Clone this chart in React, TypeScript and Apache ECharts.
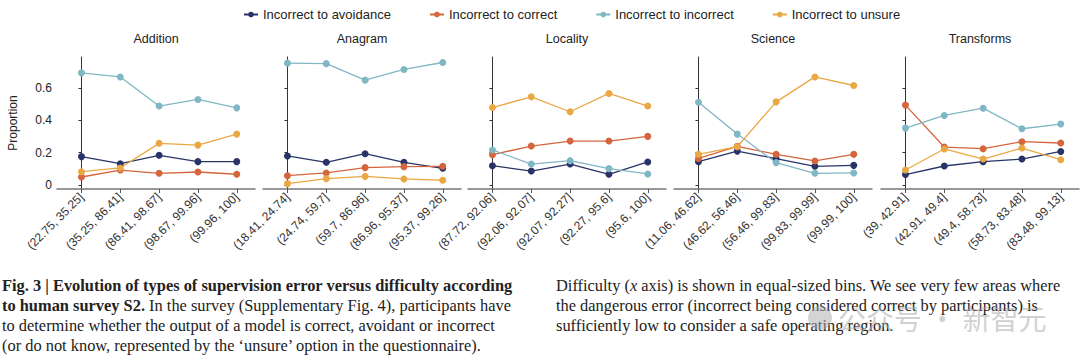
import React, { useEffect, useRef } from "react";
import * as echarts from "echarts";

const panelNames = ["Addition", "Anagram", "Locality", "Science", "Transforms"];
const seriesNames = [
  "Incorrect to avoidance",
  "Incorrect to correct",
  "Incorrect to incorrect",
  "Incorrect to unsure",
];
const seriesColors = ["#283467", "#d5653c", "#80b7c4", "#eaa844"];

const binsAddition = ["(22.75, 35.25]", "(35.25, 86.41]", "(86.41, 98.67]", "(98.67, 99.96]", "(99.96, 100]"];
const binsAnagram = ["(18.41, 24.74]", "(24.74, 59.7]", "(59.7, 86.96]", "(86.96, 95.37]", "(95.37, 99.26]"];
const binsLocality = ["(87.72, 92.06]", "(92.06, 92.07]", "(92.07, 92.27]", "(92.27, 95.6]", "(95.6, 100]"];
const binsScience = ["(11.06, 46.62]", "(46.62, 56.46]", "(56.46, 99.83]", "(99.83, 99.99]", "(99.99, 100]"];
const binsTransforms = ["(39, 42.91]", "(42.91, 49.4]", "(49.4, 58.73]", "(58.73, 83.48]", "(83.48, 99.13]"];
const panelBins = [binsAddition, binsAnagram, binsLocality, binsScience, binsTransforms];

// rows: Addition, Anagram, Locality, Science, Transforms
const toAvoidance = [
  [0.175, 0.131, 0.183, 0.144, 0.144],
  [0.179, 0.14, 0.193, 0.14, 0.103],
  [0.119, 0.086, 0.129, 0.066, 0.142],
  [0.144, 0.209, 0.162, 0.115, 0.121],
  [0.064, 0.117, 0.144, 0.16, 0.207],
];
const toCorrect = [
  [0.049, 0.092, 0.072, 0.08, 0.066],
  [0.057, 0.074, 0.107, 0.113, 0.115],
  [0.187, 0.24, 0.271, 0.271, 0.3],
  [0.164, 0.238, 0.189, 0.148, 0.189],
  [0.493, 0.234, 0.224, 0.267, 0.259],
];
const toIncorrect = [
  [0.692, 0.667, 0.487, 0.528, 0.476],
  [0.752, 0.749, 0.647, 0.713, 0.756],
  [0.216, 0.129, 0.15, 0.101, 0.068],
  [0.511, 0.314, 0.138, 0.072, 0.074],
  [0.351, 0.429, 0.474, 0.347, 0.376],
];
const toUnsure = [
  [0.082, 0.105, 0.257, 0.246, 0.314],
  [0.008, 0.039, 0.053, 0.037, 0.029],
  [0.478, 0.544, 0.452, 0.565, 0.487],
  [0.189, 0.236, 0.513, 0.667, 0.614],
  [0.092, 0.222, 0.16, 0.228, 0.156],
];
const seriesData = [toAvoidance, toCorrect, toIncorrect, toUnsure];

const yTicks = [0, 0.2, 0.4, 0.6];
const yTickLabels = ["0", "0.2", "0.4", "0.6"];
const xPositions = [0, 1, 2, 3, 4];

const captionLeft = [
  "{b|Fig. 3 | Evolution of types of supervision error versus difficulty according}",
  "{b|to human survey S2.} In the survey (Supplementary Fig. 4), participants have",
  "to determine whether the output of a model is correct, avoidant or incorrect",
  "(or do not know, represented by the \u2018unsure\u2019 option in the questionnaire).",
];
const captionRight = [
  "Difficulty ({i|x} axis) is shown in equal-sized bins. We see very few areas where",
  "the dangerous error (incorrect being considered correct by participants) is",
  "sufficiently low to consider a safe operating region.",
];
const watermark = "公众号 · 新智元";

const gridLefts = [57, 263, 468, 674, 881];
const gridWidth = 198;
const gridTop = 57;
const gridHeight = 132;

export default function App() {
  const ref = useRef<HTMLDivElement>(null);
  useEffect(() => {
    if (!ref.current) return;
    const chart = echarts.init(ref.current, null, { renderer: "svg" });
    const sans = "Liberation Sans, Arial, sans-serif";
    const grids = gridLefts.map((l) => ({ left: l, top: gridTop, width: gridWidth, height: gridHeight }));
    const xAxes = panelBins.map((bins, i) => ({
      type: "value",
      gridIndex: i,
      min: -0.63,
      max: 4.47,
      splitLine: { show: false },
      axisLine: { show: true, onZero: false, lineStyle: { color: "#777", width: 1.5 } },
      axisTick: { show: true, customValues: xPositions, length: 4, lineStyle: { color: "#555" } },
      axisLabel: {
        customValues: xPositions,
        rotate: 45,
        fontSize: 12,
        fontFamily: sans,
        color: "#333",
        margin: 6,
        formatter: (v: number) => bins[Math.round(v)],
      },
    }));
    const yAxes = panelNames.map((_, i) => ({
      type: "value",
      gridIndex: i,
      min: -0.025,
      max: 0.79,
      splitLine: { show: false },
      name: i === 0 ? "Proportion" : "",
      nameLocation: "middle",
      nameGap: 38,
      nameTextStyle: { fontSize: 12, fontFamily: sans, color: "#222" },
      axisLine: { show: true, lineStyle: { color: "#333", width: 1 } },
      axisTick: { show: true, customValues: yTicks, length: 3, lineStyle: { color: "#333" } },
      axisLabel: {
        show: i === 0,
        customValues: yTicks,
        fontSize: 12,
        fontFamily: sans,
        color: "#222",
        margin: 5,
        formatter: (v: number) => yTickLabels[yTicks.findIndex((t) => Math.abs(t - v) < 1e-6)] ?? "",
      },
    }));
    const series: any[] = [];
    panelNames.forEach((_, p) => {
      seriesNames.forEach((name, s) => {
        series.push({
          type: "line",
          name,
          xAxisIndex: p,
          yAxisIndex: p,
          data: seriesData[s][p].map((v, k) => [xPositions[k], v]),
          symbol: "circle",
          symbolSize: 7,
          lineStyle: { width: 1.3, color: seriesColors[s] },
          itemStyle: { color: seriesColors[s] },
        });
      });
    });
    const graphics: any[] = panelNames.map((n, i) => ({
      type: "text",
      x: gridLefts[i] + gridWidth / 2,
      y: 39,
      style: { text: n, align: "center", verticalAlign: "middle", font: `12.5px ${sans}`, fill: "#222" },
    }));
    const serif = "Liberation Serif, serif";
    const fs = 16.4;
    captionLeft.forEach((t, k) => {
      graphics.push({
        type: "text",
        x: 2,
        y: 285 + k * 20,
        style: {
          text: t,
          verticalAlign: "middle",
          font: `${fs}px ${serif}`,
          fill: "#222",
          rich: { b: { fontWeight: "bold", fontSize: fs, fontFamily: serif, fill: "#222" } },
        },
      });
    });
    captionRight.forEach((t, k) => {
      graphics.push({
        type: "text",
        x: 556,
        y: 285 + k * 20,
        style: {
          text: t,
          verticalAlign: "middle",
          font: `${fs}px ${serif}`,
          fill: "#222",
          rich: { i: { fontStyle: "italic", fontSize: fs, fontFamily: serif, fill: "#222" } },
        },
      });
    });
    graphics.push({
      type: "circle",
      shape: { cx: 820, cy: 318, r: 12 },
      style: { fill: "rgba(170,170,170,0.5)" },
    });
    graphics.push({
      type: "text",
      x: 838,
      y: 318,
      style: {
        text: watermark,
        verticalAlign: "middle",
        font: `28px Noto Sans CJK SC, sans-serif`,
        fill: "rgba(170,170,170,0.55)",
      },
    });
    chart.setOption({
      animation: false,
      backgroundColor: "#fff",
      legend: {
        top: 3,
        left: 238,
        itemGap: 38,
        itemWidth: 14,
        itemHeight: 7,
        textStyle: { fontSize: 13, fontFamily: sans, color: "#222" },
        data: seriesNames,
      },
      grid: grids,
      xAxis: xAxes,
      yAxis: yAxes,
      series,
      graphic: graphics,
    });
    return () => chart.dispose();
  }, []);
  return <div ref={ref} style={{ position: "absolute", left: 0, top: 0, width: 1080, height: 360 }} />;
}
